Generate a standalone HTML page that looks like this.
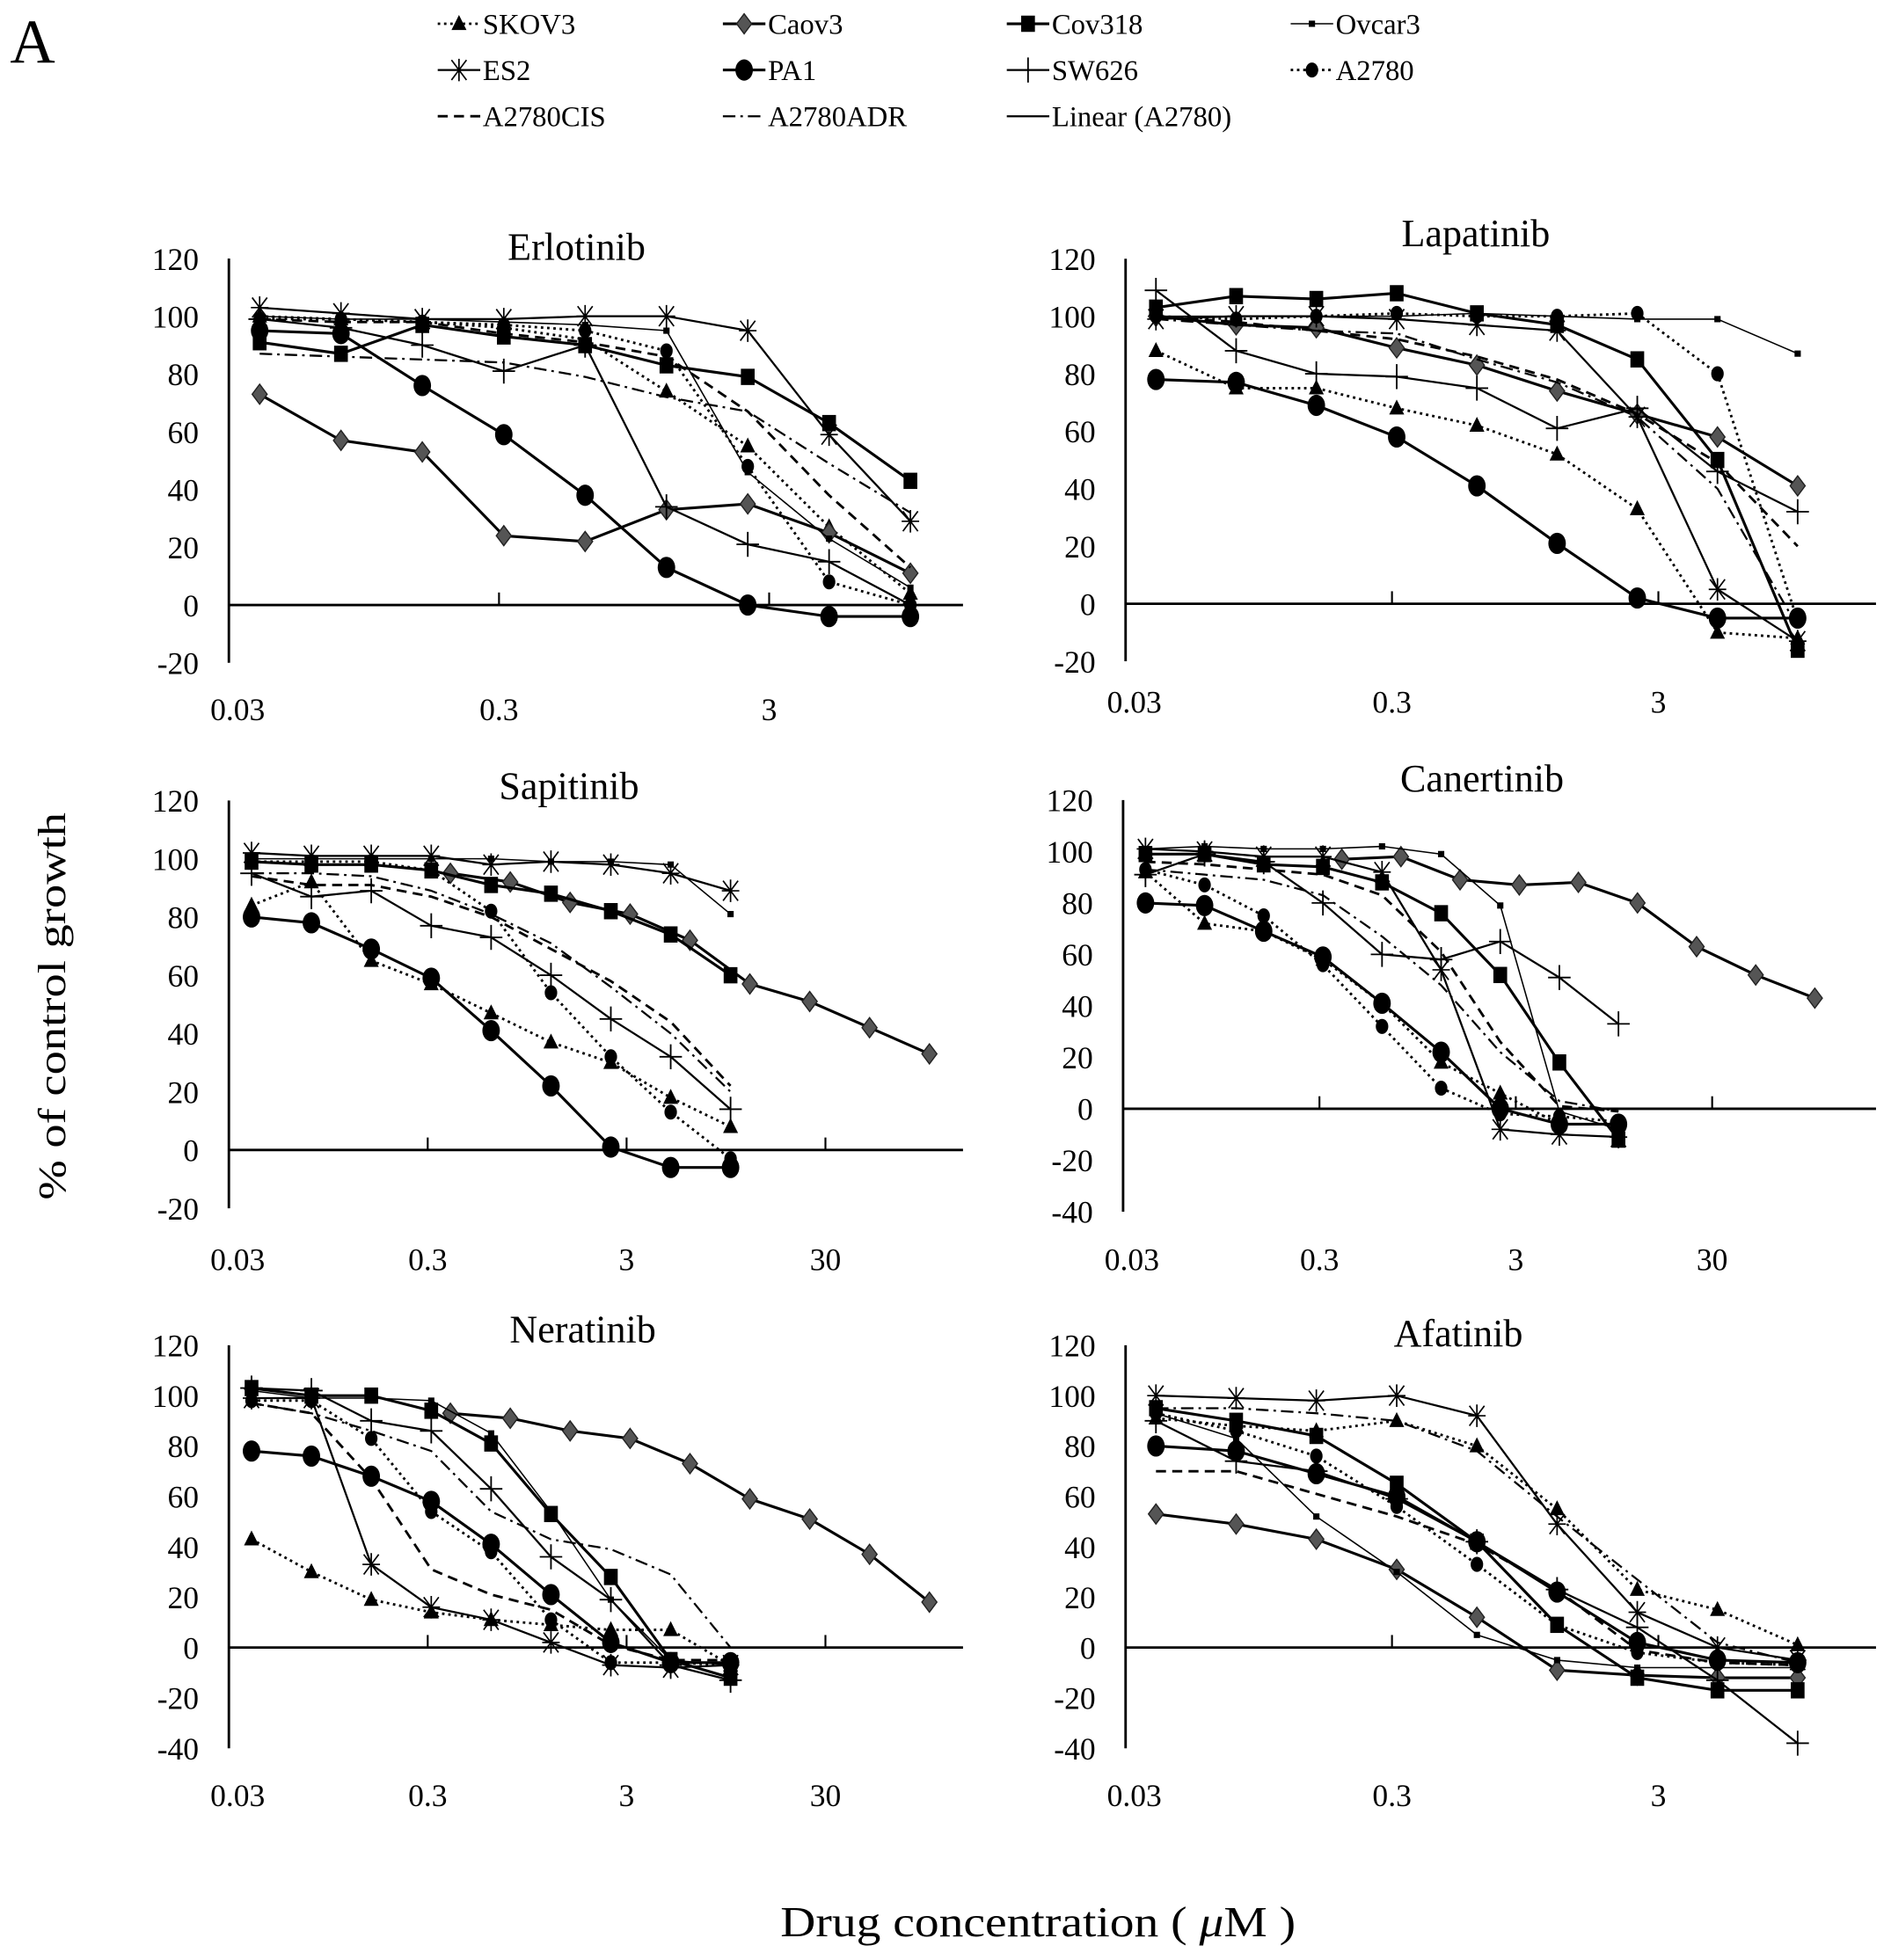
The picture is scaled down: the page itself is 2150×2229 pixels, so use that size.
<!DOCTYPE html>
<html><head><meta charset="utf-8"><title>Dose response curves</title>
<style>
html,body{margin:0;padding:0;background:#fff;}
svg{display:block;}
text{font-family:"Liberation Serif",serif;fill:#000;}
</style></head>
<body>
<svg id="fig" width="2150" height="2229" viewBox="0 0 1512 1568" preserveAspectRatio="none" xmlns="http://www.w3.org/2000/svg">
<text x="8" y="50" font-size="50">A</text>
<g id="legend"></g>
<g id="panels"></g>
<text transform="translate(52,805) rotate(-90)" text-anchor="middle" font-size="31" textLength="310" lengthAdjust="spacingAndGlyphs">% of control growth</text>
<text x="830" y="1549" text-anchor="middle" font-size="34" textLength="412" lengthAdjust="spacingAndGlyphs">Drug concentration ( <tspan font-style="italic">μ</tspan>M )</text>
</svg>
<script>
// concentrations (µM)
const concs = [0.039,0.078,0.156,0.3125,0.625,1.25,2.5,5,10];
const caov3Concs = [0.39,0.78,1.56,3.125,6.25,12.5,25,50,100];
const seriesNames = ["SKOV3","Caov3","Cov318","Ovcar3","ES2","PA1","SW626","A2780","A2780CIS","A2780ADR"];

// Erlotinib
const erlSKOV3=[100,99,98,96,92,74,55,27,4];
const erlCaov3=[73,57,53,24,22,33,35,25,11];
const erlCov318=[91,87,97,93,90,83,79,63,43];
const erlOvcar3=[100,99,99,98,97,95,46,23,6];
const erlES2=[103,101,99,99,100,100,95,59,29];
const erlPA1=[95,94,76,59,38,13,0,-4,-4];
const erlSW626=[99,96,90,81,90,34,21,15,0];
const erlA2780=[99,99,98,97,95,88,48,8,0];
const erlCIS=[99,98,98,94,91,86,67,38,13];
const erlADR=[87,86,85,84,79,72,67,49,32];
// Lapatinib
const lapSKOV3=[88,75,75,68,62,52,33,-10,-12];
const lapCaov3=[100,97,96,89,83,74,66,58,41];
const lapCov318=[103,107,106,108,101,97,85,50,-16];
const lapOvcar3=[100,100,100,100,101,100,99,99,87];
const lapES2=[99,100,100,99,97,95,65,5,-13];
const lapPA1=[78,77,69,58,41,21,2,-5,-5];
const lapSW626=[109,88,80,79,75,61,68,46,32];
const lapA2780=[100,99,100,101,100,100,101,80,-6];
const lapCIS=[100,98,95,92,86,78,66,49,20];
const lapADR=[99,97,95,94,85,77,65,40,-8];
// Sapitinib
const sapSKOV3=[84,92,65,57,47,37,30,18,8];
const sapCaov3=[95,92,85,81,72,57,51,42,33];
const sapCov318=[99,98,98,96,91,88,82,74,60];
const sapOvcar3=[100,100,100,100,100,99,99,98,81];
const sapES2=[102,101,101,101,98,99,98,95,89];
const sapPA1=[80,78,69,59,41,22,1,-6,-6];
const sapSW626=[95,87,89,77,73,60,45,32,14];
const sapA2780=[99,99,99,96,82,54,32,13,-3];
const sapCIS=[94,91,91,87,80,69,58,44,22];
const sapADR=[95,95,94,89,81,71,56,40,20];
// Canertinib
const canSKOV3=[92,72,69,58,41,18,6,-6,-6];
const canCaov3=[97,98,89,87,88,80,63,52,43];
const canCov318=[99,99,95,94,88,76,52,18,-12];
const canOvcar3=[101,102,101,101,102,99,79,-1,-8];
const canES2=[101,100,98,98,92,54,-8,-10,-11];
const canPA1=[80,79,69,59,41,22,0,-6,-6];
const canSW626=[91,99,96,80,60,58,65,51,33];
const canA2780=[93,87,75,56,32,8,-2,-3,-5];
const canCIS=[96,95,93,91,83,61,26,1,-1];
const canADR=[93,91,89,83,67,48,22,3,-1];
// Neratinib
const nerSKOV3=[43,30,19,14,11,9,7,7,-7];
const nerCaov3=[93,91,86,83,73,59,51,37,18];
const nerCov318=[103,100,100,94,81,53,28,-5,-12];
const nerOvcar3=[102,99,99,98,85,54,19,-5,-7];
const nerES2=[99,99,33,16,11,2,-7,-8,-7];
const nerPA1=[78,76,68,58,41,21,2,-6,-6];
const nerSW626=[103,102,90,86,63,36,19,-7,-13];
const nerA2780=[98,98,83,54,38,11,-6,-6,-7];
const nerCIS=[97,93,67,31,21,15,1,-5,-5];
const nerADR=[97,93,86,78,54,43,39,29,0];
// Afatinib
const afaSKOV3=[91,88,86,90,80,55,23,15,1];
const afaCaov3=[53,49,43,31,12,-9,-11,-12,-12];
const afaCov318=[95,90,84,65,42,9,-12,-17,-17];
const afaOvcar3=[93,83,52,30,5,-5,-8,-8,-8];
const afaES2=[100,99,98,100,92,49,14,0,-5];
const afaPA1=[80,78,69,60,42,22,2,-5,-6];
const afaSW626=[90,74,70,59,42,23,8,-13,-38];
const afaA2780=[93,86,76,56,33,9,-2,-6,-7];
const afaCIS=[70,70,61,52,41,23,-1,-6,-7];
const afaADR=[95,95,93,90,78,52,27,2,-6];

const yTicksA=[-20,0,20,40,60,80,100,120];
const yTicksB=[-40,-20,0,20,40,60,80,100,120];
const xTicks3=["0.03","0.3","3"];
const xTicks4=["0.03","0.3","3","30"];

const NS="http://www.w3.org/2000/svg";
const styles={
 SKOV3:{w:2,dash:"2,3",m:"tri"},
 Caov3:{w:2.2,dash:"",m:"dia"},
 Cov318:{w:2.2,dash:"",m:"sq"},
 Ovcar3:{w:1.1,dash:"",m:"sqs"},
 ES2:{w:1.6,dash:"",m:"ast"},
 PA1:{w:2.2,dash:"",m:"circ"},
 SW626:{w:1.6,dash:"",m:"plus"},
 A2780:{w:2,dash:"2,3",m:"circs"},
 A2780CIS:{w:2,dash:"8,5",m:"none"},
 A2780ADR:{w:1.6,dash:"10,4,2,4",m:"none"}
};
function el(tag,attrs,parent){const e=document.createElementNS(NS,tag);for(const k in attrs)e.setAttribute(k,attrs[k]);if(parent)parent.appendChild(e);return e;}
function drawMarker(g,type,x,y){
 let e=null;
 if(type==="tri"){e=el("polygon",{points:`${x},${y-7} ${x-6},${y+5} ${x+6},${y+5}`,fill:"#000"},g);}
 else if(type==="dia"){e=el("polygon",{points:`${x},${y-8} ${x+6},${y} ${x},${y+8} ${x-6},${y}`,fill:"#555",stroke:"#222","stroke-width":1},g);}
 else if(type==="sq"){e=el("rect",{x:x-5.5,y:y-6.5,width:11,height:13,fill:"#000"},g);}
 else if(type==="sqs"){e=el("rect",{x:x-2.5,y:y-2.5,width:5,height:5,fill:"#000"},g);}
 else if(type==="circ"){e=el("ellipse",{cx:x,cy:y,rx:7,ry:8.5,fill:"#000"},g);}
 else if(type==="circs"){e=el("ellipse",{cx:x,cy:y,rx:5,ry:6,fill:"#000"},g);}
 else if(type==="plus"){e=el("path",{d:`M${x-9} ${y}H${x+9}M${x} ${y-10}V${y+10}`,stroke:"#000","stroke-width":1.3,fill:"none"},g);}
 else if(type==="ast"){e=el("path",{d:`M${x-6} ${y-8}L${x+6} ${y+8}M${x+6} ${y-8}L${x-6} ${y+8}M${x} ${y-9}V${y+9}M${x-7} ${y}H${x+7}`,stroke:"#000","stroke-width":1.2,fill:"none"},g);}
 if(e){
  
  
 }
}
const panels=[
 {name:"Erlotinib",key:"erlotinib",x0:183,y0:484,unit:2.31,dec:216,xEnd:770,ymin:-20,yt:yTicksA,xt:xTicks3,tx:461,ty:208,lblY:576,caovShift:false,
  data:[erlSKOV3,erlCaov3,erlCov318,erlOvcar3,erlES2,erlPA1,erlSW626,erlA2780,erlCIS,erlADR]},
 {name:"Lapatinib",key:"lapatinib",x0:900,y0:483,unit:2.30,dec:213,xEnd:1500,ymin:-20,yt:yTicksA,xt:xTicks3,tx:1180,ty:197,lblY:570,caovShift:false,
  data:[lapSKOV3,lapCaov3,lapCov318,lapOvcar3,lapES2,lapPA1,lapSW626,lapA2780,lapCIS,lapADR]},
 {name:"Sapitinib",key:"sapitinib",x0:183,y0:920,unit:2.33,dec:159,xEnd:770,ymin:-20,yt:yTicksA,xt:xTicks4,tx:455,ty:639,lblY:1016,caovShift:true,
  data:[sapSKOV3,sapCaov3,sapCov318,sapOvcar3,sapES2,sapPA1,sapSW626,sapA2780,sapCIS,sapADR]},
 {name:"Canertinib",key:"canertinib",x0:898,y0:887,unit:2.058,dec:157,xEnd:1500,ymin:-40,yt:yTicksB,xt:xTicks4,tx:1185,ty:633,lblY:1016,caovShift:true,
  data:[canSKOV3,canCaov3,canCov318,canOvcar3,canES2,canPA1,canSW626,canA2780,canCIS,canADR]},
 {name:"Neratinib",key:"neratinib",x0:183,y0:1318,unit:2.015,dec:159,xEnd:770,ymin:-40,yt:yTicksB,xt:xTicks4,tx:466,ty:1074,lblY:1445,caovShift:true,
  data:[nerSKOV3,nerCaov3,nerCov318,nerOvcar3,nerES2,nerPA1,nerSW626,nerA2780,nerCIS,nerADR]},
 {name:"Afatinib",key:"afatinib",x0:900,y0:1318,unit:2.015,dec:213,xEnd:1500,ymin:-40,yt:yTicksB,xt:xTicks3,tx:1166,ty:1077,lblY:1445,caovShift:false,
  data:[afaSKOV3,afaCaov3,afaCov318,afaOvcar3,afaES2,afaPA1,afaSW626,afaA2780,afaCIS,afaADR]}
];
const root=document.getElementById("panels");
panels.forEach(p=>{
 const g=el("g",{},root);
 
 
 const xs=c=>p.x0+Math.log10(c/0.03)*p.dec;
 const ys=v=>p.y0-v*p.unit;
 const t=el("text",{x:p.tx,y:p.ty,"text-anchor":"middle","font-size":31},g);
 t.textContent=p.name;
 
 
 const ya=el("line",{x1:p.x0,y1:ys(120),x2:p.x0,y2:ys(p.ymin),stroke:"#000","stroke-width":2},g);
 
 
 const xa=el("line",{x1:p.x0,y1:p.y0,x2:p.xEnd,y2:p.y0,stroke:"#000","stroke-width":2},g);
 
 
 p.yt.forEach(v=>{
  const tl=el("text",{x:p.x0-24,y:ys(v)+9,"text-anchor":"end","font-size":25},g);
  tl.textContent=String(v);
  
  
 });
 p.xt.forEach((s,i)=>{
  const xv=xs(parseFloat(s));
  if(i>0){
   const tk=el("line",{x1:xv,y1:p.y0-10,x2:xv,y2:p.y0,stroke:"#000","stroke-width":1.5},g);
   
   
  }
  const tl=el("text",{x:xv+(i===0?7:0),y:p.lblY,"text-anchor":"middle","font-size":25},g);
  tl.textContent=s;
  
  
 });
 p.data.forEach((vals,si)=>{
  const nm=seriesNames[si];
  const st=styles[nm];
  const cc=(nm==="Caov3"&&p.caovShift)?caov3Concs:concs;
  const pts=vals.map((v,i)=>xs(cc[i]).toFixed(1)+","+ys(v).toFixed(1)).join(" ");
  const sg=el("g",{},g);
  
  
  const ln=el("polyline",{points:pts,fill:"none",stroke:"#000","stroke-width":st.w,"stroke-dasharray":st.dash,"stroke-linejoin":"round"},sg);
  
  
  vals.forEach((v,i)=>drawMarker(sg,st.m,xs(cc[i]),ys(v)));
 });
});
// legend
const legendItems=[
 ["SKOV3",350,19],["Caov3",578,19],["Cov318",805,19],["Ovcar3",1032,19],
 ["ES2",350,56],["PA1",578,56],["SW626",805,56],["A2780",1032,56],
 ["A2780CIS",350,93],["A2780ADR",578,93],["Linear (A2780)",805,93]
];
const lg=document.getElementById("legend");
legendItems.forEach(it=>{
 const [nm,x,y]=it;
 const gi=el("g",{},lg);
 
 
 const st=styles[nm]||{w:1.6,dash:"",m:"none"};
 el("line",{x1:x,y1:y,x2:x+34,y2:y,stroke:"#000","stroke-width":st.w,"stroke-dasharray":st.dash},gi);
 const sm={tri:"tri",dia:"dia",sq:"sq",sqs:"sqs",ast:"ast",circ:"circ",plus:"plus",circs:"circs"}[st.m];
 if(sm) drawMarker(gi,sm,x+17,y);
 const tt=el("text",{x:x+36,y:y+8,"font-size":23},gi);
 tt.textContent=nm;
 
 
});
</script>
</body></html>
